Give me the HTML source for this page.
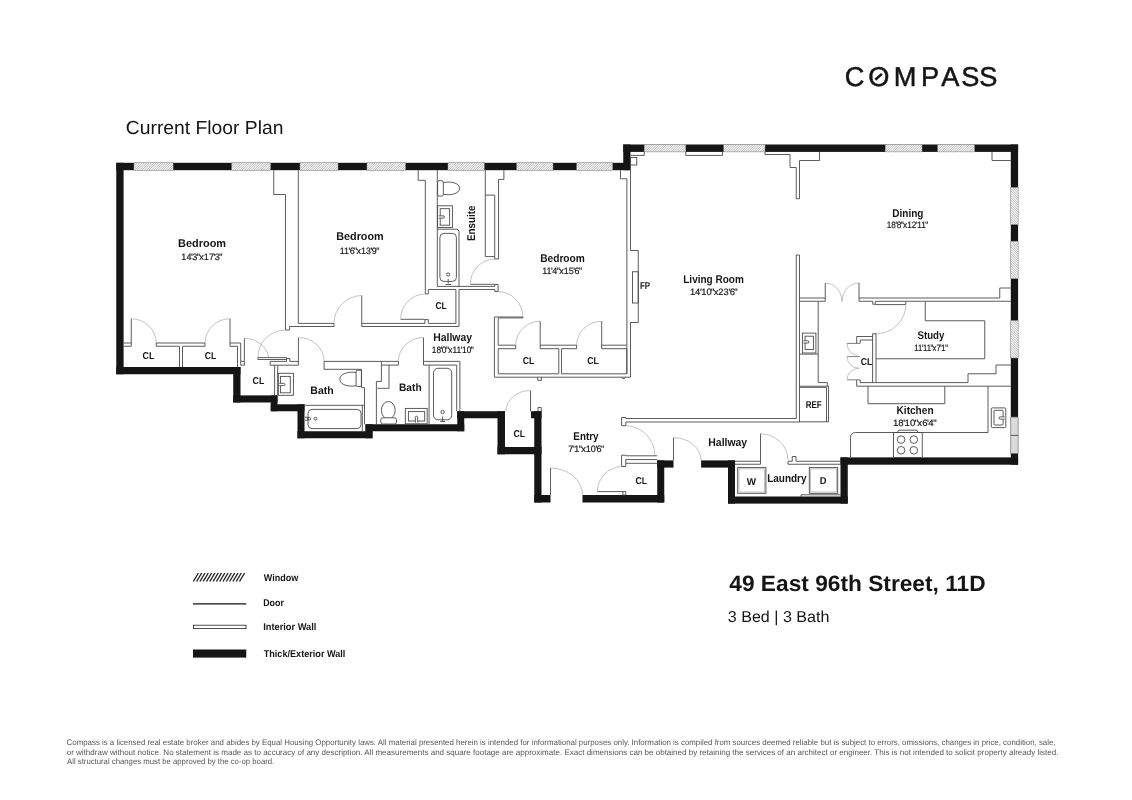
<!DOCTYPE html>
<html lang="en">
<head>
<meta charset="utf-8">
<title>Current Floor Plan - 49 East 96th Street, 11D</title>
<style>
html,body{margin:0;padding:0;background:#fff;}
body{width:1132px;height:800px;overflow:hidden;}
svg{display:block;font-family:"Liberation Sans",sans-serif;will-change:transform;text-rendering:geometricPrecision;}
.l{fill:none;stroke:#4a4a4a;stroke-width:0.9;}
.l2{fill:none;stroke:#4a4a4a;stroke-width:0.7;}
.lw{fill:#fff;stroke:#4a4a4a;stroke-width:0.9;}
.a{fill:none;stroke:#9a9a9a;stroke-width:0.6;}
</style>
</head>
<body>
<svg width="1132" height="800" viewBox="0 0 1132 800">
<defs>
</defs>
<rect width="1132" height="800" fill="#fff"/>
<g id="plan">
<rect x="116.25" y="162.80" width="514.25" height="7.40" fill="#151515" />
<rect x="116.25" y="162.80" width="7.35" height="211.45" fill="#151515" />
<rect x="116.25" y="367.00" width="124.25" height="7.25" fill="#151515" />
<rect x="233.25" y="367.00" width="7.25" height="35.50" fill="#151515" />
<rect x="233.25" y="395.40" width="44.25" height="7.10" fill="#151515" />
<rect x="270.75" y="395.40" width="6.75" height="15.85" fill="#151515" />
<rect x="270.75" y="404.30" width="33.75" height="6.95" fill="#151515" />
<rect x="297.50" y="404.30" width="7.00" height="33.95" fill="#151515" />
<rect x="297.50" y="431.25" width="75.00" height="7.00" fill="#151515" />
<rect x="365.50" y="424.25" width="7.00" height="14.00" fill="#151515" />
<rect x="365.50" y="424.25" width="98.75" height="7.00" fill="#151515" />
<rect x="457.25" y="411.25" width="7.00" height="20.00" fill="#151515" />
<rect x="457.25" y="411.25" width="47.75" height="7.00" fill="#151515" />
<rect x="497.50" y="411.25" width="7.50" height="43.00" fill="#151515" />
<rect x="497.50" y="447.00" width="44.00" height="7.25" fill="#151515" />
<rect x="534.25" y="411.25" width="7.25" height="91.25" fill="#151515" />
<rect x="531.00" y="411.25" width="10.50" height="7.00" fill="#151515" />
<rect x="534.25" y="495.00" width="16.25" height="7.50" fill="#151515" />
<rect x="582.50" y="495.00" width="81.75" height="7.50" fill="#151515" />
<rect x="657.25" y="460.40" width="7.00" height="42.10" fill="#151515" />
<rect x="657.25" y="460.40" width="16.25" height="7.20" fill="#151515" />
<rect x="701.10" y="460.40" width="33.90" height="7.20" fill="#151515" />
<rect x="728.00" y="460.40" width="7.00" height="43.20" fill="#151515" />
<rect x="728.00" y="496.50" width="119.75" height="7.10" fill="#151515" />
<rect x="840.50" y="457.40" width="7.25" height="46.20" fill="#151515" />
<rect x="840.50" y="457.40" width="177.60" height="7.30" fill="#151515" />
<rect x="1010.80" y="144.50" width="7.30" height="320.20" fill="#151515" />
<rect x="623.25" y="144.50" width="394.85" height="7.40" fill="#151515" />
<rect x="623.25" y="144.50" width="7.25" height="25.70" fill="#151515" />
<rect x="134.00" y="162.80" width="39.10" height="7.40" fill="#fff" />
<path d="M134.00 163.98L135.18 162.80M134.00 166.33L137.53 162.80M134.00 168.68L139.88 162.80M134.83 170.20L142.22 162.80M137.18 170.20L144.57 162.80M139.53 170.20L146.93 162.80M141.88 170.20L149.28 162.80M144.23 170.20L151.62 162.80M146.58 170.20L153.97 162.80M148.93 170.20L156.32 162.80M151.28 170.20L158.68 162.80M153.63 170.20L161.03 162.80M155.98 170.20L163.38 162.80M158.33 170.20L165.73 162.80M160.68 170.20L168.08 162.80M163.03 170.20L170.43 162.80M165.38 170.20L172.78 162.80M167.73 170.20L173.10 164.83M170.08 170.20L173.10 167.18M172.43 170.20L173.10 169.53" stroke="#858585" stroke-width="0.6" fill="none"/>
<rect x="134.00" y="162.80" width="39.10" height="7.40" fill="none" stroke="#8a8a8a" stroke-width="0.5"/>
<rect x="231.75" y="162.80" width="38.75" height="7.40" fill="#fff" />
<path d="M231.75 163.98L232.93 162.80M231.75 166.33L235.28 162.80M231.75 168.68L237.62 162.80M232.58 170.20L239.97 162.80M234.93 170.20L242.32 162.80M237.28 170.20L244.68 162.80M239.63 170.20L247.03 162.80M241.98 170.20L249.38 162.80M244.33 170.20L251.72 162.80M246.68 170.20L254.07 162.80M249.03 170.20L256.43 162.80M251.38 170.20L258.77 162.80M253.73 170.20L261.12 162.80M256.08 170.20L263.48 162.80M258.43 170.20L265.82 162.80M260.78 170.20L268.18 162.80M263.13 170.20L270.50 162.83M265.48 170.20L270.50 165.18M267.83 170.20L270.50 167.53M270.18 170.20L270.50 169.88" stroke="#858585" stroke-width="0.6" fill="none"/>
<rect x="231.75" y="162.80" width="38.75" height="7.40" fill="none" stroke="#8a8a8a" stroke-width="0.5"/>
<rect x="300.00" y="162.80" width="38.00" height="7.40" fill="#fff" />
<path d="M300.00 163.98L301.18 162.80M300.00 166.32L303.52 162.80M300.00 168.68L305.88 162.80M300.83 170.20L308.23 162.80M303.18 170.20L310.57 162.80M305.53 170.20L312.93 162.80M307.88 170.20L315.27 162.80M310.23 170.20L317.62 162.80M312.58 170.20L319.98 162.80M314.93 170.20L322.32 162.80M317.28 170.20L324.68 162.80M319.62 170.20L327.02 162.80M321.98 170.20L329.38 162.80M324.33 170.20L331.73 162.80M326.68 170.20L334.07 162.80M329.03 170.20L336.43 162.80M331.38 170.20L338.00 163.58M333.73 170.20L338.00 165.93M336.08 170.20L338.00 168.28" stroke="#858585" stroke-width="0.6" fill="none"/>
<rect x="300.00" y="162.80" width="38.00" height="7.40" fill="none" stroke="#8a8a8a" stroke-width="0.5"/>
<rect x="367.00" y="162.80" width="38.50" height="7.40" fill="#fff" />
<path d="M367.00 163.98L368.18 162.80M367.00 166.32L370.52 162.80M367.00 168.68L372.88 162.80M367.83 170.20L375.23 162.80M370.18 170.20L377.57 162.80M372.53 170.20L379.93 162.80M374.88 170.20L382.27 162.80M377.23 170.20L384.62 162.80M379.58 170.20L386.98 162.80M381.93 170.20L389.32 162.80M384.28 170.20L391.68 162.80M386.62 170.20L394.02 162.80M388.98 170.20L396.38 162.80M391.33 170.20L398.73 162.80M393.68 170.20L401.07 162.80M396.03 170.20L403.43 162.80M398.38 170.20L405.50 163.08M400.73 170.20L405.50 165.43M403.08 170.20L405.50 167.78M405.43 170.20L405.50 170.13" stroke="#858585" stroke-width="0.6" fill="none"/>
<rect x="367.00" y="162.80" width="38.50" height="7.40" fill="none" stroke="#8a8a8a" stroke-width="0.5"/>
<rect x="448.00" y="162.80" width="36.25" height="7.40" fill="#fff" />
<path d="M448.00 163.98L449.18 162.80M448.00 166.32L451.52 162.80M448.00 168.68L453.88 162.80M448.83 170.20L456.23 162.80M451.18 170.20L458.57 162.80M453.53 170.20L460.93 162.80M455.88 170.20L463.27 162.80M458.23 170.20L465.62 162.80M460.58 170.20L467.98 162.80M462.93 170.20L470.32 162.80M465.28 170.20L472.68 162.80M467.62 170.20L475.02 162.80M469.98 170.20L477.38 162.80M472.33 170.20L479.73 162.80M474.68 170.20L482.07 162.80M477.03 170.20L484.25 162.98M479.38 170.20L484.25 165.33M481.73 170.20L484.25 167.68M484.08 170.20L484.25 170.03" stroke="#858585" stroke-width="0.6" fill="none"/>
<rect x="448.00" y="162.80" width="36.25" height="7.40" fill="none" stroke="#8a8a8a" stroke-width="0.5"/>
<rect x="516.75" y="162.80" width="36.25" height="7.40" fill="#fff" />
<path d="M516.75 163.97L517.92 162.80M516.75 166.32L520.27 162.80M516.75 168.68L522.62 162.80M517.58 170.20L524.98 162.80M519.93 170.20L527.33 162.80M522.27 170.20L529.67 162.80M524.62 170.20L532.02 162.80M526.98 170.20L534.38 162.80M529.33 170.20L536.73 162.80M531.68 170.20L539.08 162.80M534.02 170.20L541.42 162.80M536.38 170.20L543.77 162.80M538.73 170.20L546.12 162.80M541.08 170.20L548.48 162.80M543.43 170.20L550.83 162.80M545.77 170.20L553.00 162.97M548.12 170.20L553.00 165.32M550.48 170.20L553.00 167.68M552.83 170.20L553.00 170.03" stroke="#858585" stroke-width="0.6" fill="none"/>
<rect x="516.75" y="162.80" width="36.25" height="7.40" fill="none" stroke="#8a8a8a" stroke-width="0.5"/>
<rect x="576.75" y="162.80" width="35.85" height="7.40" fill="#fff" />
<path d="M576.75 163.97L577.92 162.80M576.75 166.32L580.27 162.80M576.75 168.68L582.62 162.80M577.58 170.20L584.98 162.80M579.93 170.20L587.33 162.80M582.27 170.20L589.67 162.80M584.62 170.20L592.02 162.80M586.98 170.20L594.38 162.80M589.33 170.20L596.73 162.80M591.68 170.20L599.08 162.80M594.02 170.20L601.42 162.80M596.38 170.20L603.77 162.80M598.73 170.20L606.12 162.80M601.08 170.20L608.48 162.80M603.43 170.20L610.83 162.80M605.77 170.20L612.60 163.37M608.12 170.20L612.60 165.72M610.48 170.20L612.60 168.07" stroke="#858585" stroke-width="0.6" fill="none"/>
<rect x="576.75" y="162.80" width="35.85" height="7.40" fill="none" stroke="#8a8a8a" stroke-width="0.5"/>
<rect x="644.25" y="144.50" width="41.50" height="7.40" fill="#fff" />
<path d="M644.25 145.67L645.42 144.50M644.25 148.03L647.77 144.50M644.25 150.38L650.12 144.50M645.08 151.90L652.48 144.50M647.43 151.90L654.83 144.50M649.77 151.90L657.17 144.50M652.12 151.90L659.52 144.50M654.48 151.90L661.88 144.50M656.83 151.90L664.23 144.50M659.18 151.90L666.58 144.50M661.52 151.90L668.92 144.50M663.88 151.90L671.27 144.50M666.23 151.90L673.62 144.50M668.58 151.90L675.98 144.50M670.93 151.90L678.33 144.50M673.27 151.90L680.67 144.50M675.62 151.90L683.02 144.50M677.98 151.90L685.38 144.50M680.33 151.90L685.75 146.48M682.68 151.90L685.75 148.83M685.03 151.90L685.75 151.18" stroke="#858585" stroke-width="0.6" fill="none"/>
<rect x="644.25" y="144.50" width="41.50" height="7.40" fill="none" stroke="#8a8a8a" stroke-width="0.5"/>
<rect x="723.75" y="144.50" width="41.25" height="7.40" fill="#fff" />
<path d="M723.75 145.67L724.92 144.50M723.75 148.03L727.27 144.50M723.75 150.38L729.62 144.50M724.58 151.90L731.98 144.50M726.93 151.90L734.33 144.50M729.27 151.90L736.67 144.50M731.62 151.90L739.02 144.50M733.98 151.90L741.38 144.50M736.33 151.90L743.73 144.50M738.68 151.90L746.08 144.50M741.02 151.90L748.42 144.50M743.38 151.90L750.77 144.50M745.73 151.90L753.12 144.50M748.08 151.90L755.48 144.50M750.43 151.90L757.83 144.50M752.77 151.90L760.17 144.50M755.12 151.90L762.52 144.50M757.48 151.90L764.88 144.50M759.83 151.90L765.00 146.73M762.18 151.90L765.00 149.08M764.53 151.90L765.00 151.43" stroke="#858585" stroke-width="0.6" fill="none"/>
<rect x="723.75" y="144.50" width="41.25" height="7.40" fill="none" stroke="#8a8a8a" stroke-width="0.5"/>
<rect x="885.25" y="144.50" width="36.75" height="7.40" fill="#fff" />
<path d="M885.25 145.67L886.42 144.50M885.25 148.03L888.77 144.50M885.25 150.38L891.12 144.50M886.08 151.90L893.48 144.50M888.43 151.90L895.83 144.50M890.77 151.90L898.17 144.50M893.12 151.90L900.52 144.50M895.48 151.90L902.88 144.50M897.83 151.90L905.23 144.50M900.18 151.90L907.58 144.50M902.52 151.90L909.92 144.50M904.88 151.90L912.27 144.50M907.23 151.90L914.62 144.50M909.58 151.90L916.98 144.50M911.93 151.90L919.33 144.50M914.27 151.90L921.67 144.50M916.62 151.90L922.00 146.53M918.98 151.90L922.00 148.88M921.33 151.90L922.00 151.23" stroke="#858585" stroke-width="0.6" fill="none"/>
<rect x="885.25" y="144.50" width="36.75" height="7.40" fill="none" stroke="#8a8a8a" stroke-width="0.5"/>
<rect x="937.75" y="144.50" width="36.75" height="7.40" fill="#fff" />
<path d="M937.75 145.67L938.92 144.50M937.75 148.03L941.27 144.50M937.75 150.38L943.62 144.50M938.58 151.90L945.98 144.50M940.93 151.90L948.33 144.50M943.27 151.90L950.67 144.50M945.62 151.90L953.02 144.50M947.98 151.90L955.38 144.50M950.33 151.90L957.73 144.50M952.68 151.90L960.08 144.50M955.02 151.90L962.42 144.50M957.38 151.90L964.77 144.50M959.73 151.90L967.12 144.50M962.08 151.90L969.48 144.50M964.43 151.90L971.83 144.50M966.77 151.90L974.17 144.50M969.12 151.90L974.50 146.53M971.48 151.90L974.50 148.88M973.83 151.90L974.50 151.23" stroke="#858585" stroke-width="0.6" fill="none"/>
<rect x="937.75" y="144.50" width="36.75" height="7.40" fill="none" stroke="#8a8a8a" stroke-width="0.5"/>
<rect x="1010.80" y="187.50" width="7.30" height="37.00" fill="#fff" />
<path d="M1018.10 188.67L1016.93 187.50M1018.10 191.02L1014.58 187.50M1018.10 193.38L1012.23 187.50M1018.10 195.73L1010.80 188.42M1018.10 198.08L1010.80 190.77M1018.10 200.42L1010.80 193.12M1018.10 202.78L1010.80 195.48M1018.10 205.12L1010.80 197.82M1018.10 207.47L1010.80 200.17M1018.10 209.83L1010.80 202.52M1018.10 212.17L1010.80 204.87M1018.10 214.53L1010.80 207.23M1018.10 216.88L1010.80 209.57M1018.10 219.22L1010.80 211.92M1018.10 221.58L1010.80 214.27M1018.10 223.92L1010.80 216.62M1016.33 224.50L1010.80 218.98M1013.98 224.50L1010.80 221.32M1011.63 224.50L1010.80 223.67" stroke="#858585" stroke-width="0.6" fill="none"/>
<rect x="1010.80" y="187.50" width="7.30" height="37.00" fill="none" stroke="#8a8a8a" stroke-width="0.5"/>
<rect x="1010.80" y="241.25" width="7.30" height="37.35" fill="#fff" />
<path d="M1018.10 242.42L1016.93 241.25M1018.10 244.77L1014.58 241.25M1018.10 247.12L1012.23 241.25M1018.10 249.48L1010.80 242.17M1018.10 251.83L1010.80 244.52M1018.10 254.17L1010.80 246.87M1018.10 256.53L1010.80 249.23M1018.10 258.88L1010.80 251.57M1018.10 261.22L1010.80 253.92M1018.10 263.58L1010.80 256.27M1018.10 265.92L1010.80 258.62M1018.10 268.28L1010.80 260.98M1018.10 270.62L1010.80 263.32M1018.10 272.97L1010.80 265.67M1018.10 275.33L1010.80 268.02M1018.10 277.67L1010.80 270.37M1016.68 278.60L1010.80 272.73M1014.33 278.60L1010.80 275.07M1011.98 278.60L1010.80 277.42" stroke="#858585" stroke-width="0.6" fill="none"/>
<rect x="1010.80" y="241.25" width="7.30" height="37.35" fill="none" stroke="#8a8a8a" stroke-width="0.5"/>
<rect x="1010.80" y="320.60" width="7.30" height="37.40" fill="#fff" />
<path d="M1018.10 321.77L1016.93 320.60M1018.10 324.12L1014.58 320.60M1018.10 326.48L1012.23 320.60M1018.10 328.83L1010.80 321.52M1018.10 331.18L1010.80 323.88M1018.10 333.52L1010.80 326.22M1018.10 335.88L1010.80 328.58M1018.10 338.23L1010.80 330.92M1018.10 340.57L1010.80 333.27M1018.10 342.93L1010.80 335.62M1018.10 345.27L1010.80 337.97M1018.10 347.63L1010.80 340.33M1018.10 349.98L1010.80 342.67M1018.10 352.32L1010.80 345.02M1018.10 354.68L1010.80 347.38M1018.10 357.02L1010.80 349.72M1016.73 358.00L1010.80 352.08M1014.38 358.00L1010.80 354.42M1012.03 358.00L1010.80 356.77" stroke="#858585" stroke-width="0.6" fill="none"/>
<rect x="1010.80" y="320.60" width="7.30" height="37.40" fill="none" stroke="#8a8a8a" stroke-width="0.5"/>
<rect x="1010.80" y="417.10" width="7.30" height="36.30" fill="#dadada" stroke="#777" stroke-width="0.6"/>
<polyline class="l" points="1010.80,435.40 1018.10,435.40"/>
<polyline class="l" points="273.75,170.20 273.75,194.50 285.50,194.50 285.50,330.00 289.60,330.00 289.60,326.50 334.00,326.50 334.00,323.40 298.30,323.40 298.30,170.20"/>
<polyline class="l" points="361.75,295.50 361.75,326.50"/>
<path class="a" d="M361.75 295.50A28.00 28.00 0 0 0 334.00 323.40"/>
<polyline class="l" points="418.20,170.20 418.20,180.30 425.30,180.30 425.30,293.90 428.30,293.90 428.30,289.50 455.90,289.50 455.90,323.40 428.30,323.40 428.30,319.60 424.90,319.60 424.90,323.40 361.75,323.40"/>
<polyline class="l" points="361.75,326.50 459.00,326.50 459.00,289.50 494.80,289.50"/>
<polyline class="l" points="437.30,170.20 437.30,286.40 494.80,286.40"/>
<polyline class="l" points="400.70,319.30 424.90,319.30"/>
<path class="a" d="M400.70 319.30A25.00 25.00 0 0 1 425.00 294.00"/>
<polyline class="l" points="123.60,343.00 131.25,343.00 131.25,346.25 123.60,346.25"/>
<polyline class="l" points="131.25,318.75 131.25,343.00"/>
<path class="a" d="M131.25 318.75A25.00 24.50 0 0 1 156.25 343.00"/>
<polyline class="l" points="179.50,346.25 156.25,346.25 156.25,343.00 205.00,343.00 205.00,346.25 182.50,346.25"/>
<polyline class="l" points="179.50,346.25 179.50,367.00"/>
<polyline class="l" points="182.50,346.25 182.50,367.00"/>
<polyline class="l" points="230.00,318.75 230.00,343.00"/>
<path class="a" d="M230.00 318.75A25.00 24.50 0 0 0 205.00 343.00"/>
<polyline class="l" points="230.00,343.00 240.70,343.00 240.70,361.40 244.40,361.40 244.40,338.20"/>
<polyline class="l" points="230.00,343.00 230.00,346.30 237.50,346.30 237.50,367.00"/>
<polyline class="l" points="240.70,361.40 240.70,365.20 244.40,365.20 244.40,361.40"/>
<path class="a" d="M244.40 338.20A24.50 24.00 0 0 1 268.90 357.60"/>
<polyline class="l" points="257.90,357.60 286.50,357.60 286.50,359.50 257.90,359.50 257.90,357.60"/>
<path class="a" d="M257.90 357.60A27.50 27.50 0 0 1 285.30 330.00"/>
<polyline class="l" points="298.40,361.40 289.80,361.40 289.80,358.50 286.50,358.50 286.50,361.40 270.20,361.40 270.20,365.20 298.40,365.20"/>
<polyline class="l" points="274.60,365.20 274.60,395.40"/>
<polyline class="l" points="277.70,365.20 277.70,395.40"/>
<polyline class="l" points="298.40,337.60 298.40,365.20"/>
<path class="a" d="M298.40 337.60A25.00 24.00 0 0 1 324.10 361.40"/>
<polyline class="l" points="398.40,361.40 324.10,361.40 324.10,369.30 361.50,369.30 361.50,387.70 364.50,387.70 364.50,424.25"/>
<rect class="l" x="278.30" y="373.30" width="15.10" height="22.00" rx="0"/>
<rect class="l" x="280.40" y="376.40" width="9.90" height="16.40" rx="0"/>
<path class="lw" d="M279.30 383.35H283.75a1.15 1.15 0 0 1 0 2.3H279.30"/>
<rect class="l" x="356.10" y="370.30" width="5.30" height="16.20" rx="1.2"/>
<path class="l" d="M356.1 372.4C349 371.5 339.8 373.5 339.8 379.2C339.8 385 349 387 356.1 385.8"/>
<polyline class="l" points="304.50,405.30 364.50,405.30"/>
<polyline class="l" points="362.30,405.30 362.30,431.25"/>
<rect class="l" x="308.00" y="409.40" width="53.00" height="19.20" rx="4"/>
<ellipse class="l" cx="309.30" cy="418.70" rx="1.40" ry="1.40"/>
<ellipse class="l" cx="315.50" cy="418.70" rx="1.40" ry="1.40"/>
<polyline class="l" points="305.00,417.20 307.80,417.20 307.80,420.20 305.00,420.20"/>
<polyline class="l" points="376.40,424.25 376.40,381.40 381.40,381.40 381.40,361.40"/>
<polyline class="l" points="381.40,365.10 398.40,365.10 398.40,361.40"/>
<polyline class="l" points="377.40,388.30 389.00,388.30 389.00,365.10"/>
<polyline class="l" points="423.50,337.50 423.50,365.10"/>
<path class="a" d="M423.50 337.50A25.00 24.00 0 0 0 398.40 361.40"/>
<polyline class="l" points="423.50,361.40 459.90,361.40 459.90,411.25"/>
<polyline class="l" points="423.50,365.10 456.70,365.10 456.70,411.25"/>
<polyline class="l" points="429.10,365.10 429.10,424.25"/>
<rect class="l" x="433.50" y="368.30" width="18.20" height="51.50" rx="4.5"/>
<ellipse class="l" cx="442.60" cy="412.00" rx="1.70" ry="1.70"/>
<polyline class="l" points="442.60,416.50 442.60,421.00"/>
<polyline class="l" points="440.20,421.50 445.00,421.50"/>
<rect class="l" x="405.30" y="408.40" width="21.90" height="15.40" rx="0"/>
<rect class="l" x="408.40" y="411.60" width="16.30" height="9.40" rx="0"/>
<path class="lw" d="M415.35 422.60V417.35a1.15 1.15 0 0 1 2.3 0V422.60"/>
<ellipse class="l" cx="388.30" cy="410.30" rx="6.90" ry="8.80"/>
<rect class="lw" x="380.80" y="417.80" width="15.70" height="6.20" rx="2"/>
<rect class="l" x="437.60" y="180.70" width="5.70" height="15.40" rx="1.5"/>
<path class="l" d="M443.3 182.6C450 181.2 459.6 182.5 459.6 188.3C459.6 194.2 450 195.5 443.3 194.2"/>
<rect class="l" x="437.60" y="205.80" width="14.80" height="21.70" rx="0"/>
<rect class="l" x="440.20" y="208.70" width="9.40" height="16.50" rx="0"/>
<path class="lw" d="M438.80 215.85H443.25a1.15 1.15 0 0 1 0 2.3H438.80"/>
<path class="l" d="M437.3 229.2H456.5Q459 229.2 459 231.7V286.4"/>
<rect class="l" x="439.90" y="233.40" width="16.50" height="48.00" rx="4"/>
<ellipse class="l" cx="448.20" cy="274.50" rx="1.60" ry="1.60"/>
<polyline class="l" points="448.20,279.00 448.20,283.50"/>
<polyline class="l" points="445.50,284.50 451.00,284.50"/>
<polyline class="l" points="485.30,170.20 485.30,256.60 494.70,256.60 494.70,195.10 485.30,195.10"/>
<polyline class="l" points="503.90,170.20 503.90,179.40 498.50,179.40 498.50,259.00 494.70,259.00 494.70,256.60"/>
<polyline class="l" points="494.80,286.40 494.80,284.50 498.10,284.50 498.10,291.50 494.80,291.50 494.80,289.50"/>
<polyline class="l" points="470.30,284.30 494.80,284.30"/>
<path class="a" d="M470.30 284.30A25.00 25.00 0 0 1 494.80 259.00"/>
<polyline class="l" points="494.40,317.00 522.90,317.00 522.90,317.90 498.20,317.90"/>
<path class="a" d="M498.10 291.50A25.00 25.50 0 0 1 522.90 317.00"/>
<polyline class="l" points="494.40,317.00 494.40,377.20 630.50,377.20 630.50,322.50"/>
<polyline class="l" points="498.20,317.90 498.20,345.20 515.70,345.20 515.70,348.70 498.20,348.70 498.20,373.80 558.80,373.80 558.80,348.70 540.20,348.70 540.20,345.20 576.60,345.20 576.60,348.70 561.50,348.70 561.50,373.80 626.80,373.80 626.80,348.70 601.70,348.70 601.70,345.20 626.80,345.20"/>
<polyline class="l" points="540.20,321.30 540.20,345.20"/>
<path class="a" d="M540.20 321.30A24.50 24.00 0 0 0 515.70 345.20"/>
<polyline class="l" points="601.70,321.30 601.70,345.20"/>
<path class="a" d="M601.70 321.30A25.00 24.00 0 0 0 576.60 345.20"/>
<polyline class="l" points="537.70,377.20 537.70,380.40 541.40,380.40 541.40,377.20"/>
<polyline class="l" points="621.80,377.20 622.80,378.60 624.50,378.60 625.50,377.20"/>
<polyline class="l" points="620.50,170.20 620.50,178.75 626.90,178.75 626.90,373.80"/>
<polyline class="l" points="630.50,170.20 630.50,250.50 638.25,250.50 638.25,322.50 630.50,322.50"/>
<rect class="l" x="632.50" y="271.75" width="5.75" height="31.25" rx="0"/>
<rect class="l" x="630.50" y="157.50" width="6.25" height="7.50" rx="0"/>
<polyline class="l" points="630.50,155.40 644.25,155.40 644.25,151.90"/>
<polyline class="l" points="685.75,151.90 685.75,155.40 722.50,155.40 722.50,151.90"/>
<polyline class="l" points="765.00,151.90 765.00,154.50 790.00,154.50 790.00,167.50 796.25,167.50 796.25,198.75 799.50,198.75 799.50,160.50 819.50,160.50 819.50,151.90"/>
<polyline class="l" points="796.25,418.50 796.25,255.00 799.50,255.00 799.50,422.00"/>
<polyline class="l" points="796.25,418.50 625.80,418.50 625.80,417.50 621.60,417.50 621.60,425.70 625.80,425.70 625.80,422.00 799.50,422.00 799.50,421.25"/>
<path class="a" d="M625.80 425.70A29.50 30.00 0 0 1 654.90 455.50"/>
<polyline class="l" points="657.25,455.80 625.80,455.80 625.80,455.20 621.60,455.20 621.60,466.50 625.80,466.50 625.80,459.60 657.25,459.60"/>
<polyline class="l" points="625.80,463.30 657.25,463.30"/>
<path class="a" d="M622.00 466.50A25.00 25.00 0 0 0 597.50 491.60"/>
<polyline class="l" points="597.50,491.60 625.80,491.60 625.80,495.00 622.90,495.00 622.90,491.60"/>
<polyline class="l" points="550.50,468.00 550.50,495.00"/>
<path class="a" d="M550.50 468.00A32.00 27.00 0 0 1 582.50 495.00"/>
<polyline class="l" points="530.50,390.50 530.50,411.25"/>
<path class="a" d="M530.50 390.50A24.50 20.75 0 0 0 506.00 411.25"/>
<polyline class="l" points="538.00,411.25 538.00,407.50 541.25,407.50 541.25,411.25"/>
<polyline class="l" points="673.50,437.60 673.50,460.40"/>
<path class="a" d="M673.50 437.60A27.50 23.00 0 0 1 701.00 460.40"/>
<polyline class="l" points="735.00,461.25 760.50,461.25 760.50,464.25 735.00,464.25"/>
<polyline class="l" points="760.50,433.75 760.50,461.25"/>
<path class="a" d="M760.50 433.75A27.50 26.50 0 0 1 788.00 460.00"/>
<polyline class="l" points="840.50,461.25 796.00,461.25 796.00,456.50 792.25,456.50 792.25,461.25 788.00,461.25 788.00,464.25 840.50,464.25"/>
<rect class="l" x="737.70" y="467.60" width="28.20" height="25.70" rx="0"/>
<rect class="a" x="739.00" y="468.90" width="25.60" height="23.10" rx="0"/>
<rect class="l" x="809.30" y="467.60" width="28.40" height="25.70" rx="0"/>
<rect class="a" x="810.60" y="468.90" width="25.80" height="23.10" rx="0"/>
<polyline class="l" points="801.00,496.50 801.00,494.80 840.50,494.80"/>
<polyline class="l" points="799.50,298.00 825.25,298.00 825.25,283.00"/>
<polyline class="l" points="799.50,301.25 825.25,301.25 825.25,298.00"/>
<polyline class="l" points="859.00,283.00 859.00,301.25 872.75,301.25 872.75,304.25 875.25,304.25 875.25,301.25 1010.80,301.25"/>
<polyline class="l" points="859.00,298.00 999.75,298.00 999.75,288.00 1010.80,288.00"/>
<path class="a" d="M825.25 283.00A16.80 18.60 0 0 1 842.00 301.60"/>
<path class="a" d="M859.00 283.00A17.00 18.60 0 0 0 842.00 301.60"/>
<polyline class="l" points="992.00,151.90 992.00,160.50 1010.80,160.50"/>
<polyline class="l" points="818.20,301.25 818.20,382.60 827.40,382.60 827.40,386.20"/>
<polyline class="l" points="799.50,354.10 818.20,354.10"/>
<rect class="l" x="802.40" y="333.10" width="13.50" height="19.90" rx="0"/>
<rect class="l" x="805.10" y="336.20" width="8.30" height="13.40" rx="0"/>
<path class="lw" d="M803.40 340.75H807.85a1.15 1.15 0 0 1 0 2.3H803.40"/>
<polyline class="l" points="799.50,386.20 828.50,386.20 828.50,421.80 799.50,421.80"/>
<polyline class="l" points="799.50,387.40 826.50,387.40 826.50,421.80"/>
<polyline class="l" points="875.25,304.60 905.80,304.60 905.80,301.25"/>
<path class="a" d="M905.80 304.60A29.80 29.20 0 0 1 876.00 333.75"/>
<polyline class="l" points="872.60,382.60 872.60,333.80 876.00,333.80 876.00,382.60"/>
<polyline class="l" points="856.70,343.40 856.70,336.50 872.60,336.50"/>
<polyline class="l" points="860.20,343.40 860.20,340.00 872.60,340.00"/>
<polyline class="l2" points="847.10,343.40 860.20,343.40"/>
<polyline class="l2" points="847.10,356.60 860.20,356.60"/>
<polyline class="l2" points="847.10,379.80 860.20,379.80"/>
<polyline class="l" points="856.70,379.80 856.70,386.20 1010.80,386.20"/>
<polyline class="l" points="860.20,379.80 860.20,382.60 968.00,382.60"/>
<path class="a" d="M847.10 343.40A10.40 11.90 0 0 0 857.50 355.30"/>
<path class="a" d="M847.10 356.80A11.90 11.40 0 0 0 859.00 368.20"/>
<path class="a" d="M859.00 368.20A11.90 11.60 0 0 0 847.10 379.80"/>
<polyline class="l" points="925.25,301.25 925.25,320.75 984.75,320.75 984.75,358.75 876.00,358.75"/>
<polyline class="l" points="968.00,382.60 968.00,373.75 996.00,373.75 996.00,365.00 1010.80,365.00"/>
<polyline class="l" points="868.00,386.20 868.00,403.70 944.80,403.70 944.80,386.20"/>
<path class="l" d="M850.5 457.4V437.5Q850.5 432.5 855.5 432.5H988V386.25"/>
<rect class="l" x="893.50" y="432.50" width="28.75" height="24.90" rx="0"/>
<polyline class="l" points="897.75,432.50 898.50,430.20 917.00,430.20 917.75,432.50"/>
<ellipse class="l" cx="901.10" cy="439.60" rx="3.80" ry="3.80"/>
<ellipse class="l" cx="901.10" cy="450.30" rx="3.80" ry="3.80"/>
<ellipse class="l" cx="913.80" cy="439.60" rx="3.80" ry="3.80"/>
<ellipse class="l" cx="913.80" cy="450.30" rx="3.80" ry="3.80"/>
<rect class="l" x="991.30" y="407.90" width="14.50" height="19.70" rx="1"/>
<rect class="l" x="994.00" y="410.30" width="9.10" height="14.70" rx="0.8"/>
<path class="lw" d="M1004.60 416.85H1000.15a1.15 1.15 0 0 0 0 2.3H1004.60"/>
</g>
<g id="labels">
<text x="844.85 868.16 893.69 921.00 941.19 961.24 979.19" y="86.0" font-size="27.2" fill="#151515" stroke="#151515" stroke-width="0.5">COMPASS</text>
<line x1="875.3" y1="79.7" x2="881.9" y2="73.9" stroke="#151515" stroke-width="2.5"/>
<path d="M193.30 581.50L198.40 573.00M196.60 581.50L201.70 573.00M199.90 581.50L205.00 573.00M203.20 581.50L208.30 573.00M206.50 581.50L211.60 573.00M209.80 581.50L214.90 573.00M213.10 581.50L218.20 573.00M216.40 581.50L221.50 573.00M219.70 581.50L224.80 573.00M223.00 581.50L228.10 573.00M226.30 581.50L231.40 573.00M229.60 581.50L234.70 573.00M232.90 581.50L238.00 573.00M236.20 581.50L241.30 573.00M239.50 581.50L244.60 573.00" stroke="#262626" stroke-width="1.4" fill="none"/>
<line x1="193" y1="603.8" x2="246.25" y2="603.8" stroke="#151515" stroke-width="1.3"/>
<rect x="193.4" y="625.2" width="52.6" height="3.4" fill="#fff" stroke="#222" stroke-width="0.8"/>
<rect x="193.00" y="649.50" width="53.25" height="8.10" fill="#151515" />
<text transform="translate(178.09,247.00) scale(0.9776,1.0000)" font-size="11.2" font-weight="700" fill="#151515">Bedroom</text>
<text transform="translate(181.32,260.10) scale(0.9864,1.0000)" font-size="9.2" font-weight="400" fill="#151515" stroke="#151515" stroke-width="0.18" dx="0.00 0.00 -0.41 -0.51 -0.55 -0.69 0.00 0.00 -0.41 -0.51 -0.55">14'3"x17'3"</text>
<text transform="translate(336.20,239.70) scale(0.9672,1.0000)" font-size="11.2" font-weight="700" fill="#151515">Bedroom</text>
<text transform="translate(339.63,253.60) scale(0.9682,1.0000)" font-size="9.2" font-weight="400" fill="#151515" stroke="#151515" stroke-width="0.18" dx="0.00 0.00 -0.41 -0.51 -0.55 -0.69 0.00 0.00 -0.41 -0.51 -0.55">11'6"x13'9"</text>
<text transform="translate(540.14,261.90) scale(0.9107,1.0000)" font-size="11.2" font-weight="700" fill="#151515">Bedroom</text>
<text transform="translate(542.13,274.00) scale(0.9757,1.0000)" font-size="9.2" font-weight="400" fill="#151515" stroke="#151515" stroke-width="0.18" dx="0.00 0.00 -0.41 -0.51 -0.55 -0.69 0.00 0.00 -0.41 -0.51 -0.55">11'4"x15'6"</text>
<text transform="translate(683.25,283.20) scale(0.8942,1.0000)" font-size="11.2" font-weight="700" fill="#151515">Living Room</text>
<text transform="translate(689.90,295.10) scale(1.0182,1.0000)" font-size="9.2" font-weight="400" fill="#151515" stroke="#151515" stroke-width="0.18" dx="0.00 0.00 -0.41 -0.51 0.00 -0.55 -0.69 0.00 0.00 -0.41 -0.51 -0.55">14'10"x23'6"</text>
<text transform="translate(892.25,216.60) scale(0.8960,1.0000)" font-size="11.2" font-weight="700" fill="#151515">Dining</text>
<text transform="translate(886.78,228.20) scale(0.8961,1.0000)" font-size="9.2" font-weight="400" fill="#151515" stroke="#151515" stroke-width="0.18" dx="0.00 0.00 -0.41 -0.51 -0.55 -0.69 0.00 0.00 -0.41 -0.51 0.00 -0.55">18'8"x12'11"</text>
<text transform="translate(917.56,338.80) scale(0.8631,1.0000)" font-size="11.2" font-weight="700" fill="#151515">Study</text>
<text transform="translate(914.33,350.70) scale(0.8298,1.0000)" font-size="9.2" font-weight="400" fill="#151515" stroke="#151515" stroke-width="0.18" dx="0.00 0.00 -0.41 -0.51 0.00 -0.55 -0.69 0.00 -0.41 -0.51 -0.55">11'11"x7'1"</text>
<text transform="translate(896.54,413.70) scale(0.9027,1.0000)" font-size="11.2" font-weight="700" fill="#151515">Kitchen</text>
<text transform="translate(892.98,425.60) scale(1.0430,1.0000)" font-size="9.2" font-weight="400" fill="#151515" stroke="#151515" stroke-width="0.18" dx="0.00 0.00 -0.41 -0.51 0.00 -0.55 -0.69 0.00 -0.41 -0.51 -0.55">18'10"x6'4"</text>
<text transform="translate(433.22,340.70) scale(0.9324,1.0000)" font-size="11.2" font-weight="700" fill="#151515">Hallway</text>
<text transform="translate(431.77,352.60) scale(0.9094,1.0000)" font-size="9.2" font-weight="400" fill="#151515" stroke="#151515" stroke-width="0.18" dx="0.00 0.00 -0.41 -0.51 -0.55 -0.69 0.00 0.00 -0.41 -0.51 0.00 -0.55">18'0"x11'10"</text>
<text transform="translate(573.36,440.10) scale(0.8785,1.0000)" font-size="11.2" font-weight="700" fill="#151515">Entry</text>
<text transform="translate(568.35,451.70) scale(0.9814,1.0000)" font-size="9.2" font-weight="400" fill="#151515" stroke="#151515" stroke-width="0.18" dx="0.00 -0.41 -0.51 -0.55 -0.69 0.00 0.00 -0.41 -0.51 -0.55">7'1"x10'6"</text>
<text transform="translate(708.32,446.20) scale(0.9324,1.0000)" font-size="11.2" font-weight="700" fill="#151515">Hallway</text>
<text transform="translate(767.15,482.20) scale(0.8932,1.0000)" font-size="11.2" font-weight="700" fill="#151515">Laundry</text>
<text transform="translate(310.32,394.00) scale(0.9717,1.0000)" font-size="10.8" font-weight="700" fill="#151515">Bath</text>
<text transform="translate(398.94,390.90) scale(0.9452,1.0000)" font-size="10.8" font-weight="700" fill="#151515">Bath</text>
<text transform="translate(142.54,359.40) scale(0.8918,1.0000)" font-size="10" font-weight="700" fill="#151515">CL</text>
<text transform="translate(204.76,359.40) scale(0.8602,1.0000)" font-size="10" font-weight="700" fill="#151515">CL</text>
<text transform="translate(252.55,384.30) scale(0.8760,1.0000)" font-size="10" font-weight="700" fill="#151515">CL</text>
<text transform="translate(435.46,309.00) scale(0.8444,1.0000)" font-size="10" font-weight="700" fill="#151515">CL</text>
<text transform="translate(522.65,364.00) scale(0.8681,1.0000)" font-size="10" font-weight="700" fill="#151515">CL</text>
<text transform="translate(587.25,364.00) scale(0.8760,1.0000)" font-size="10" font-weight="700" fill="#151515">CL</text>
<text transform="translate(513.45,437.20) scale(0.8681,1.0000)" font-size="10" font-weight="700" fill="#151515">CL</text>
<text transform="translate(635.55,484.00) scale(0.8681,1.0000)" font-size="10" font-weight="700" fill="#151515">CL</text>
<text transform="translate(860.65,364.60) scale(0.8681,1.0000)" font-size="10" font-weight="700" fill="#151515">CL</text>
<text transform="translate(639.99,288.50) scale(0.7876,1.0000)" font-size="10" font-weight="700" fill="#151515">FP</text>
<text transform="translate(805.68,407.50) scale(0.8004,1.0000)" font-size="10" font-weight="700" fill="#151515">REF</text>
<text transform="translate(746.80,484.50) scale(0.9841,1.0000)" font-size="10" font-weight="700" fill="#151515">W</text>
<text transform="translate(819.69,484.20) scale(0.9355,1.0000)" font-size="10" font-weight="700" fill="#151515">D</text>
<text transform="translate(475,223.05) rotate(-90) translate(-17.89,0.00) scale(0.8762,1.0000)" font-size="11.2" font-weight="700" fill="#151515">Ensuite</text>
<text transform="translate(125.84,133.60) scale(1.0209,1.0000)" font-size="18.9" font-weight="400" fill="#151515">Current Floor Plan</text>
<text transform="translate(729.26,591.30) scale(1.0189,1.0000)" font-size="22.3" font-weight="700" fill="#151515">49 East 96th Street, 11D</text>
<text transform="translate(727.74,621.80) scale(1.0180,1.0000)" font-size="15.8" font-weight="400" fill="#151515">3 Bed | 3 Bath</text>
<text transform="translate(263.75,580.75) scale(0.9203,1.0000)" font-size="9.8" font-weight="700" fill="#151515">Window</text>
<text transform="translate(263.17,606.25) scale(0.9055,1.0000)" font-size="9.8" font-weight="700" fill="#151515">Door</text>
<text transform="translate(263.15,630.00) scale(0.9461,1.0000)" font-size="9.8" font-weight="700" fill="#151515">Interior Wall</text>
<text transform="translate(263.66,657.00) scale(0.9300,1.0000)" font-size="9.8" font-weight="700" fill="#151515">Thick/Exterior Wall</text>
<text transform="translate(66.61,744.50) scale(0.9715,1.0000)" font-size="8.1" font-weight="400" fill="#555">Compass is a licensed real estate broker and abides by Equal Housing Opportunity laws. All material presented herein is intended for informational purposes only. Information is compiled from sources deemed reliable but is subject to errors, omissions, changes in price, condition, sale,</text>
<text transform="translate(66.68,754.70) scale(0.9904,1.0000)" font-size="8.1" font-weight="400" fill="#555">or withdraw without notice. No statement is made as to accuracy of any description. All measurements and square footage are approximate. Exact dimensions can be obtained by retaining the services of an architect or engineer. This is not intended to solicit property already listed.</text>
<text transform="translate(67.00,764.40) scale(0.9578,1.0000)" font-size="8.1" font-weight="400" fill="#555">All structural changes must be approved by the co-op board.</text>
</g>
</svg>
</body>
</html>
